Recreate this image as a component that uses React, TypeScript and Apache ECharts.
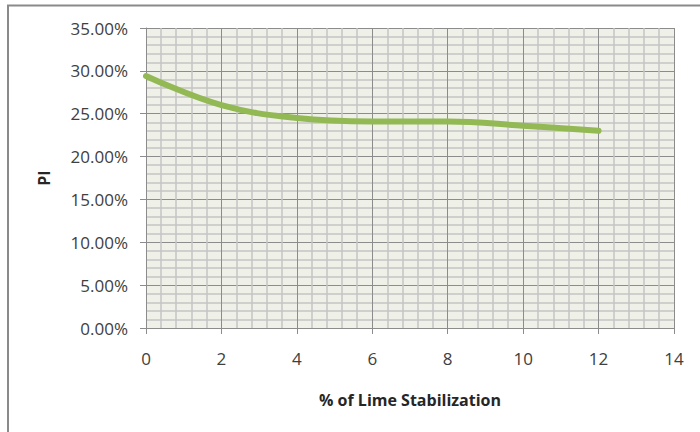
import React, { useEffect, useRef } from "react";
import * as echarts from "echarts";

// Lime content (%) and plasticity index (%)
const limePercent = [0, 2, 4, 6, 8, 10, 12];
const plasticityIndex = [29.4, 26.0, 24.5, 24.1, 24.1, 23.6, 23.0];

const xTicks = { min: 0, max: 14, interval: 2 };
const yTicks = { min: 0, max: 35, interval: 5 };

const xAxisTitle = "% of Lime Stabilization";
const yAxisTitle = "PI";

export default function App() {
  const ref = useRef<HTMLDivElement>(null);

  useEffect(() => {
    if (!ref.current) return;
    const chart = echarts.init(ref.current, null, { renderer: "svg" });
    const font = "'Open Sans', sans-serif";
    chart.setOption({
      animation: false,
      backgroundColor: "#ffffff",
      grid: { left: 146, right: 26, top: 28, bottom: 104, backgroundColor: "#eff1e9", show: true, borderWidth: 0 },
      graphic: [
        {
          type: "polyline",
          shape: { points: [[8, 440], [8, 5.5], [710, 5.5]] },
          style: { stroke: "#8a8a8a", lineWidth: 2, fill: "none" },
          silent: true,
        },
      ],
      xAxis: {
        type: "value",
        min: xTicks.min,
        max: xTicks.max,
        interval: xTicks.interval,
        name: xAxisTitle,
        nameLocation: "middle",
        nameGap: 64,
        nameTextStyle: { fontFamily: font, fontSize: 16, fontWeight: "bold", color: "#262626" },
        axisLine: { show: true, lineStyle: { color: "#8c8c8c", width: 1 } },
        axisTick: { show: true, length: 6, lineStyle: { color: "#8c8c8c" } },
        axisLabel: { fontFamily: font, fontSize: 17, color: "#404040", margin: 22 },
        splitLine: { show: true, lineStyle: { color: "#8c8c8c", width: 1 } },
        minorTick: { show: false, splitNumber: 5 },
        minorSplitLine: { show: true, lineStyle: { color: "#c4c4c4", width: 1.5 } },
      },
      yAxis: {
        type: "value",
        min: yTicks.min,
        max: yTicks.max,
        interval: yTicks.interval,
        name: yAxisTitle,
        nameLocation: "middle",
        nameGap: 94,
        nameRotate: 90,
        nameTextStyle: { fontFamily: font, fontSize: 16, fontWeight: "bold", color: "#262626" },
        axisLine: { show: true, lineStyle: { color: "#8c8c8c", width: 1 } },
        axisTick: { show: true, length: 6, lineStyle: { color: "#8c8c8c" } },
        axisLabel: {
          fontFamily: font,
          fontSize: 17,
          color: "#404040",
          margin: 18,
          formatter: (v: number) => v.toFixed(2) + "%",
        },
        splitLine: { show: true, lineStyle: { color: "#8c8c8c", width: 1 } },
        minorTick: { show: false, splitNumber: 5 },
        minorSplitLine: { show: true, lineStyle: { color: "#c4c4c4", width: 1.5 } },
      },
      series: [
        {
          type: "line",
          data: limePercent.map((x, i) => [x, plasticityIndex[i]]),
          smooth: 0.4,
          showSymbol: false,
          lineStyle: { color: "#93b955", width: 6, cap: "round" },
        },
      ],
    });
    return () => chart.dispose();
  }, []);

  return (
    <div
      ref={ref}
      style={{ position: "fixed", left: 0, top: 0, width: 700, height: 432 }}
    />
  );
}
